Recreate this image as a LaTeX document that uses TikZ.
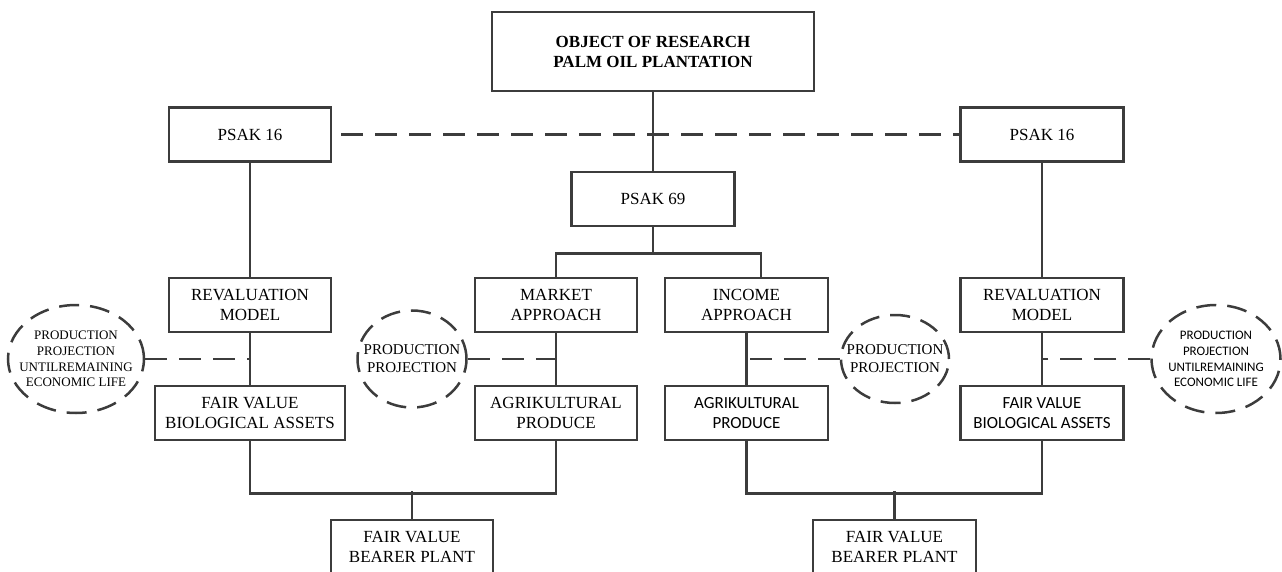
\documentclass[tikz,border=0pt]{standalone}
\usepackage{fontspec}
\setmainfont{Liberation Serif}
\newfontfamily\calibri{Carlito}
\usetikzlibrary{positioning,shapes.geometric}
\definecolor{linegray}{HTML}{3C3C3C}

\begin{document}
\begin{tikzpicture}[x=1pt,y=1pt,on grid]
       \tikzstyle{box}=[draw=linegray,line width=2.7pt,rectangle,inner sep=0pt,align=center,
              minimum width=162pt,minimum height=54pt,font=\fontsize{17}{20}\selectfont]
       \tikzstyle{cloud}=[draw=linegray,line width=2.5pt,ellipse,inner sep=0pt,
              dash pattern=on 20pt off 11pt]
       \tikzstyle{cloudtext}=[align=center,inner sep=0pt,font=\fontsize{15}{18}\selectfont]
       \tikzstyle{wire}=[draw=linegray,line width=2.5pt]
       \tikzstyle{link}=[dash pattern=on 22pt off 12pt]

       \useasboundingbox (0,0) rectangle (1282,-572);

       \node[box,minimum width=322pt,minimum height=79pt,font=\bfseries\fontsize{17}{20}\selectfont] (top) at (653,-51.5)
              {OBJECT OF RESEARCH\\PALM OIL PLANTATION};
       \node[box] (psak16l) [below left=83pt and 403pt of top] {PSAK 16};
       \node[box,minimum width=163pt] (psak16r) [below right=83pt and 389pt of top] {PSAK 16};
       \node[box,minimum width=163pt] (psak69) [below=147.5pt of top] {PSAK 69};

       \node[box] (market) [below left=106pt and 97pt of psak69] {MARKET\\APPROACH};
       \node[box,minimum width=163pt] (income) [below right=106pt and 93.5pt of psak69] {INCOME\\APPROACH};
       \node[box] (revall) [below=170.5pt of psak16l] {REVALUATION\\MODEL};
       \node[box,minimum width=163pt] (revalr) [below=170.5pt of psak16r] {REVALUATION\\MODEL};

       \node[box,minimum width=190pt] (fvbiol) [below=108pt of revall] {FAIR VALUE\\BIOLOGICAL ASSETS};
       \node[box] (agril) [below=108pt of market] {AGRIKULTURAL\\PRODUCE};
       \node[box,minimum width=163pt,font=\calibri\fontsize{17}{20}\selectfont] (agrir) [below=108pt of income]
              {AGRIKULTURAL\\PRODUCE};
       \node[box,minimum width=163pt,font=\calibri\fontsize{17}{20}\selectfont] (fvbior) [below=108pt of revalr]
              {FAIR VALUE\\BIOLOGICAL ASSETS};

       \node[box] (bearerl) at (412,-547) {FAIR VALUE\\BEARER PLANT};
       \node[box,minimum width=163pt] (bearerr) at (894.5,-547) {FAIR VALUE\\BEARER PLANT};

       \node[cloud,minimum width=136pt,minimum height=108pt,
              label={[cloudtext,font=\fontsize{13}{15.7}\selectfont]center:PRODUCTION\\PROJECTION\\UNTILREMAINING\\ECONOMIC LIFE}]
              (projl) at (76,-359) {};
       \node[cloud,minimum width=109pt,minimum height=97pt,
              label={[cloudtext]center:PRODUCTION\\PROJECTION}] (projml) at (412,-359) {};
       \node[cloud,minimum width=108pt,minimum height=88pt,
              label={[cloudtext]center:PRODUCTION\\PROJECTION}] (projmr) at (895,-359) {};
       \node[cloud,minimum width=129pt,minimum height=108pt,
              label={[cloudtext,font=\calibri\fontsize{13}{15.7}\selectfont]center:PRODUCTION\\PROJECTION\\UNTILREMAINING\\ECONOMIC LIFE}]
              (projr) at (1216,-359) {};

       \draw[wire] (top) -- (psak69);
       \draw[wire,link,shorten <=9pt] (psak16l) -- (psak16r);
       \draw[wire] (psak16l) -- (revall);
       \draw[wire] (psak16r) -- (revalr);
       \draw[wire] (psak69.south) -- ++(0,-26) coordinate (split69);
       \draw[wire] (market.north) |- (split69) -| ([xshift=14.5pt]income.north);

       \draw[wire] (revall) -- (fvbiol);
       \draw[wire] (market) -- (agril);
       \draw[wire] (income) -- (agrir);
       \draw[wire] (revalr) -- (fvbior);

       \draw[wire,link] (projl) -- (projl -| revall);
       \draw[wire,link] (projml) -- (projml -| market);
       \draw[wire,link] (projmr) -- (projmr -| income);
       \draw[wire,link] (projr) -- (projr -| revalr);

       \draw[wire] (fvbiol.south) -- ++(0,-52) -| (agril.south);
       \draw[wire] (bearerl.north) -- ++(0,28);
       \draw[wire] (agrir.south) -- ++(0,-52) -| (fvbior.south);
       \draw[wire] (bearerr.north) -- ++(0,28);
\end{tikzpicture}
\end{document}
